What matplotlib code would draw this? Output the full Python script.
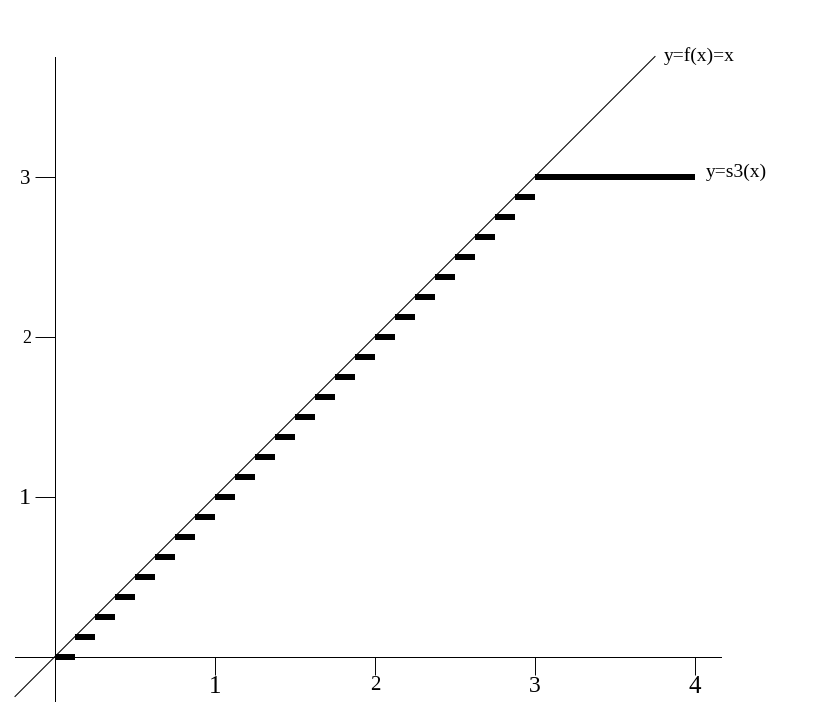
import matplotlib
matplotlib.use('Agg')
import matplotlib.pyplot as plt

# Data
line_x = [-0.25, 3.75]
line_y = [-0.25, 3.75]
step_start = [0.0, 0.125, 0.25, 0.375, 0.5, 0.625, 0.75, 0.875,
              1.0, 1.125, 1.25, 1.375, 1.5, 1.625, 1.75, 1.875,
              2.0, 2.125, 2.25, 2.375, 2.5, 2.625, 2.75, 2.875, 3.0]
step_end = [0.125, 0.25, 0.375, 0.5, 0.625, 0.75, 0.875, 1.0,
            1.125, 1.25, 1.375, 1.5, 1.625, 1.75, 1.875, 2.0,
            2.125, 2.25, 2.375, 2.5, 2.625, 2.75, 2.875, 3.0, 4.0]
step_value = [0.0, 0.125, 0.25, 0.375, 0.5, 0.625, 0.75, 0.875,
              1.0, 1.125, 1.25, 1.375, 1.5, 1.625, 1.75, 1.875,
              2.0, 2.125, 2.25, 2.375, 2.5, 2.625, 2.75, 2.875, 3.0]
x_ticks = [1, 2, 3, 4]
x_tick_labels = ['1', '2', '3', '4']
y_ticks = [1, 2, 3]
y_tick_labels = ['1', '2', '3']
curve_labels = ['y=f(x)=x', 'y=s3(x)']

SERIF = 'Liberation Serif'

fig = plt.figure(figsize=(8.24, 7.17), dpi=100)
ax = fig.add_axes([0, 0, 1, 1])
ax.set_xlim(-55 / 160, (824 - 55) / 160)
ax.set_ylim((656.5 - 717) / 160, 656.5 / 160)
ax.patch.set_visible(False)

# axes through origin
for s in ['top', 'right']:
    ax.spines[s].set_visible(False)
ax.spines['left'].set_position(('data', 0))
ax.spines['bottom'].set_position(('data', 0))
ax.spines['left'].set_bounds(-0.28, 3.75)
ax.spines['bottom'].set_bounds(-0.25, 4.16)
for s in ['left', 'bottom']:
    ax.spines[s].set_linewidth(0.7)
    ax.spines[s].set_antialiased(False)

ax.set_xticks(x_ticks)
ax.set_xticklabels(x_tick_labels, fontfamily=SERIF)
ax.set_yticks(y_ticks)
ax.set_yticklabels(y_tick_labels, fontfamily=SERIF)
ax.tick_params(axis='x', direction='out', length=13, width=0.7, pad=1)
ax.tick_params(axis='y', direction='out', length=14.4, width=0.7, pad=3)

x_sizes = [18, 15, 17, 18]
y_sizes = [17.5, 13, 15]
for lab, fs in zip(ax.get_xticklabels(), x_sizes):
    lab.set_fontsize(fs)
for lab, fs in zip(ax.get_yticklabels(), y_sizes):
    lab.set_fontsize(fs)

# diagonal line y = x
ax.plot(line_x, line_y, color='black', lw=0.75, antialiased=True)

# step function
ax.hlines(step_value, step_start, step_end, colors='black', lw=2.9,
          antialiased=False)

# curve labels
ax.annotate(curve_labels[0], xy=(line_x[-1], line_y[-1]), xytext=(9, 0),
            textcoords='offset pixels', ha='left', va='center',
            fontsize=14, fontfamily=SERIF)
ax.annotate(curve_labels[1], xy=(step_end[-1], step_value[-1]), xytext=(11, 4),
            textcoords='offset pixels', ha='left', va='center',
            fontsize=14, fontfamily=SERIF)

fig.savefig('out.png', dpi=100)
